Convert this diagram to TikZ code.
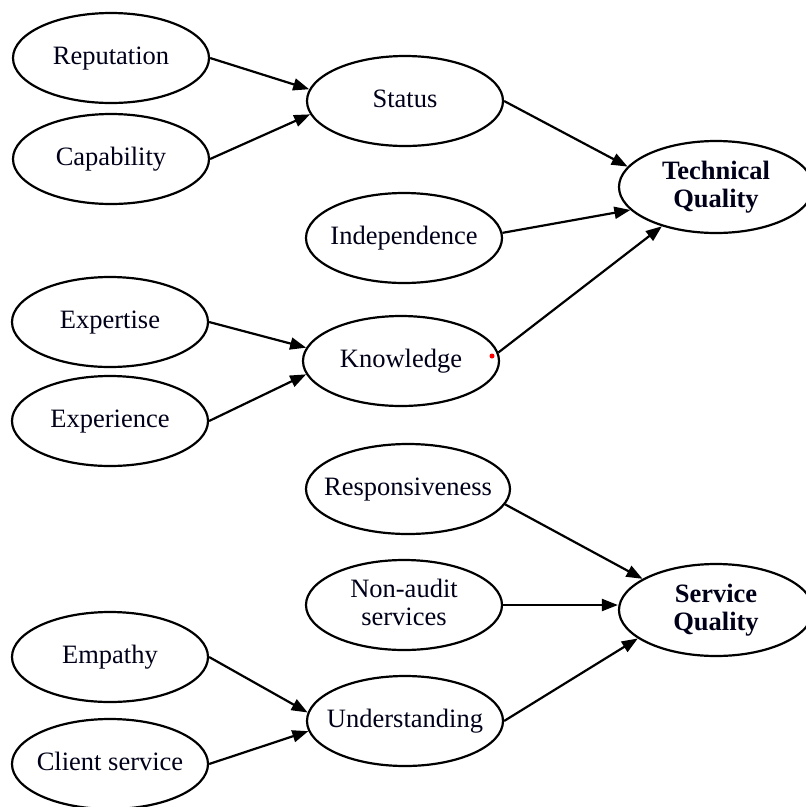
\documentclass[tikz,border=0pt]{standalone}
\usepackage{fontspec}
\setmainfont{Liberation Serif}
\usetikzlibrary{shapes.geometric,arrows.meta,calc}
\begin{document}
\begin{tikzpicture}[x=1pt,y=-1pt,
  oval/.style={ellipse, draw, line width=2.2pt, minimum width=196pt, minimum height=90pt, inner sep=0pt},
  txt/.style={font=\fontsize{26.5}{28}\selectfont, inner sep=0pt, text height=17pt, text depth=5pt, text=black!90!blue},
  txttwo/.style={font=\fontsize{26.5}{28}\selectfont, inner sep=0pt, align=center, text=black!90!blue},
  arr/.style={line width=2.2pt, -{Triangle[length=16pt,width=12pt]}}]
\useasboundingbox (0,0) rectangle (806,807);
% left column
\node[oval, label={[txt]center:Reputation}] (rep) at (111,58) {};
\node[oval, label={[txt]center:Capability}] (cap) at (111,159) {};
\node[oval, label={[txt]center:Expertise}] (expt) at (110,322) {};
\node[oval, label={[txt]center:Experience}] (expr) at (110,421) {};
\node[oval, label={[txt]center:Empathy}] (emp) at (110,657) {};
\node[oval, label={[txt]center:Client service}] (client) at (110,764) {};
% middle column
\node[oval, label={[txt]center:Status}] (status) at (405,101) {};
\node[oval, label={[txt]center:Independence}] (indep) at (404,238) {};
\node[oval, label={[txt]center:Knowledge}] (know) at (401,361) {};
\node[oval, minimum width=204pt, label={[txt]center:Responsiveness}] (resp) at (408,489) {};
\node[oval, label={[txttwo]center:{Non-audit\\services\vphantom{y}}}] (nonaudit) at (404,605) {};
\node[oval, label={[txt]center:Understanding}] (und) at (405,721) {};
% right column
\node[oval, minimum width=194pt, minimum height=92pt, label={[txttwo, font=\fontsize{26.5}{28}\selectfont\bfseries]center:{Technical\\Quality}}] (tq) at (716,187) {};
\node[oval, minimum width=194pt, minimum height=92pt, label={[txttwo, font=\fontsize{26.5}{28}\selectfont\bfseries]center:{Service\\Quality}}] (sq) at (716,610) {};
% connectors
\draw[arr] (rep.east) -- (status.173);
\draw[arr] (cap.east) -- (status.188);
\draw[arr] (status.east) -- (tq.167);
\draw[arr] (indep.3) -- (tq.195);
\draw[arr] (know.5) -- (tq.216);
\draw[arr] (expt.east) -- (know.172);
\draw[arr] (expr.east) -- (know.188);
\draw[arr] (resp.-9) -- (sq.157);
\draw[arr] (nonaudit.east) -- (nonaudit.east -| sq.west);
\draw[arr] (und.east) -- (sq.200);
\draw[arr] (emp.east) -- (und.175);
\draw[arr] (client.east) -- (und.186);
\fill[red] (492,356) circle[radius=2.5pt];
\end{tikzpicture}
\end{document}
